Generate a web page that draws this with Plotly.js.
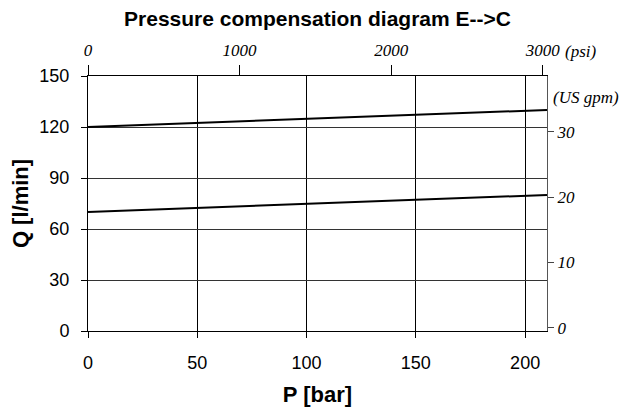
<!DOCTYPE html>
<html>
<head>
<meta charset="utf-8">
<script src="https://cdn.plot.ly/plotly-3.0.1.min.js"></script>
<style>html,body{margin:0;padding:0;background:#fff;}#chart{width:638px;height:414px;}</style>
</head>
<body>
<div id="chart"></div>
<script>
// Data
const pressureBar = [0, 210];
const flowUpper = [120, 130];
const flowLower = [70, 80];

const barTicks = [0, 50, 100, 150, 200];
const flowTicks = [0, 30, 60, 90, 120, 150];
const psiTicks = [0, 1000, 2000, 3000];
const psiTickText = ['0', '1000', '2000', '3000'];
const gpmTicks = [0, 10, 20, 30];
const gpmTickText = ['0', '10', '20', '30'];

const sans = 'Liberation Sans, Arial, sans-serif';
const serif = 'Liberation Serif, Times New Roman, serif';
const ital = s => '<i>' + s + '</i>';

const traces = [
  {x: pressureBar, y: flowUpper, mode: 'lines', line: {color: '#000', width: 2}, hoverinfo: 'skip', showlegend: false},
  {x: pressureBar, y: flowLower, mode: 'lines', line: {color: '#000', width: 2}, hoverinfo: 'skip', showlegend: false},
  {x: [], y: [], xaxis: 'x2', yaxis: 'y2', mode: 'lines', hoverinfo: 'skip', showlegend: false}
];

const layout = {
  width: 638, height: 414,
  margin: {l: 88, r: 91, t: 76, b: 83},
  paper_bgcolor: '#fff', plot_bgcolor: '#fff',
  showlegend: false,
  title: {text: '<b>Pressure compensation diagram E-->C</b>', font: {family: sans, size: 21, color: '#000'},
          x: 0.5, xref: 'paper', y: 1 - 19/414, yref: 'container', yanchor: 'middle'},
  xaxis: {range: [0, 210], tickvals: barTicks, ticks: 'outside', ticklen: 6, tickcolor: '#000',
          showgrid: true, gridcolor: '#000', gridwidth: 1, zeroline: false,
          showline: true, linecolor: '#000', linewidth: 1, ticklabelstandoff: 9,
          tickfont: {family: sans, size: 18, color: '#000'},
          title: {text: '<b>P [bar]</b>', font: {family: sans, size: 22, color: '#000'}, standoff: 15}},
  xaxis2: {overlaying: 'x', side: 'top', anchor: 'y', range: [0, 3028], tickvals: psiTicks, ticktext: psiTickText.map(ital),
           ticks: 'outside', ticklen: 10, tickcolor: '#000', showgrid: false, zeroline: false,
           showline: true, linecolor: '#000', linewidth: 1, ticklabelstandoff: 2,
           tickfont: {family: serif, size: 17, color: '#000'}},
  yaxis: {range: [0, 150], tickvals: flowTicks, ticks: 'outside', ticklen: 6, tickcolor: '#000',
          showgrid: true, gridcolor: '#333', gridwidth: 1, zeroline: false,
          showline: true, linecolor: '#000', linewidth: 1, ticklabelstandoff: 8,
          tickfont: {family: sans, size: 18, color: '#000'},
          title: {text: '<b>Q [l/min]</b>', font: {family: sans, size: 22, color: '#000'}, standoff: 4}},
  yaxis2: {overlaying: 'y', side: 'right', anchor: 'x', range: [-0.52, 38.53], tickvals: gpmTicks, ticktext: gpmTickText.map(ital),
           ticks: 'outside', ticklen: 6, tickcolor: '#444', showgrid: false, zeroline: false,
           showline: true, linecolor: '#555', linewidth: 1,
           tickfont: {family: serif, size: 17, color: '#000'}},
  annotations: [
    {text: '<i>(psi)</i>', xref: 'x2', yref: 'paper', x: 3000, y: 1, xanchor: 'left', yanchor: 'middle',
     xshift: 20, yshift: 25, showarrow: false, font: {family: serif, size: 17, color: '#000'}},
    {text: '<i>(US gpm)</i>', xref: 'paper', yref: 'paper', x: 1, y: 1, xanchor: 'left', yanchor: 'middle',
     xshift: 4, yshift: -21, showarrow: false, font: {family: serif, size: 17, color: '#000'}}
  ]
};

Plotly.newPlot('chart', traces, layout, {staticPlot: true, displayModeBar: false});
</script>
</body>
</html>
